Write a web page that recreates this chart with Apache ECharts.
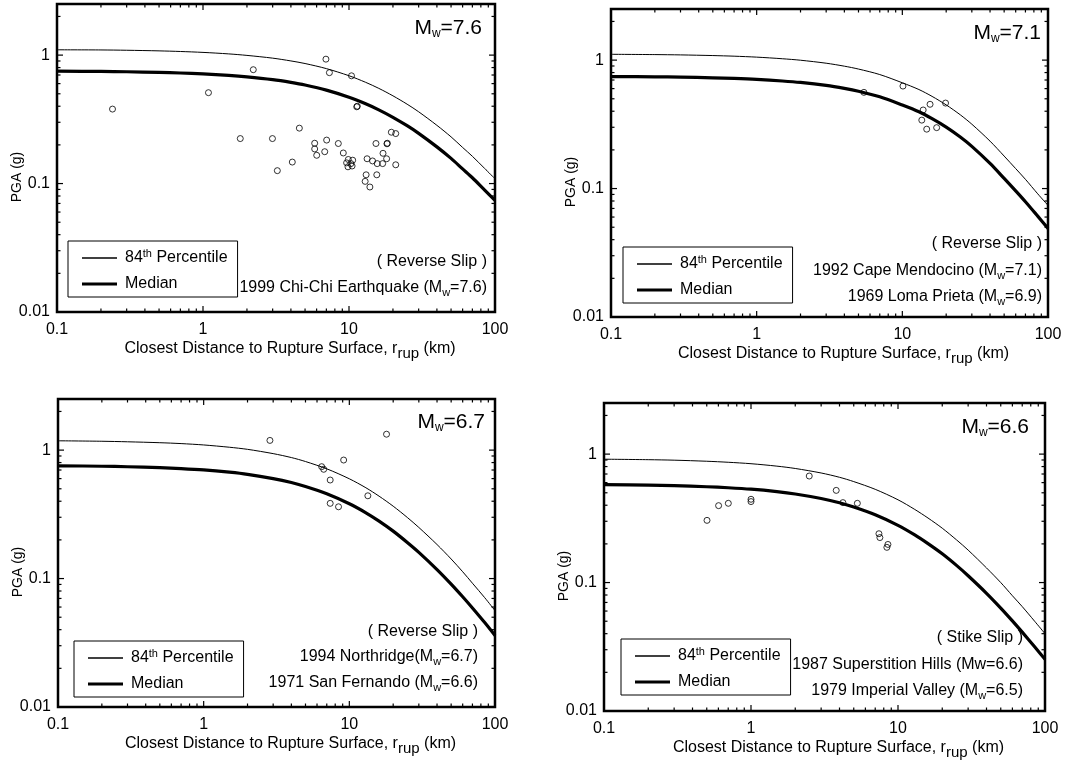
<!DOCTYPE html>
<html><head><meta charset="utf-8">
<script src="https://cdn.jsdelivr.net/npm/echarts@6/dist/echarts.min.js"></script>
<style>html,body{margin:0;padding:0;background:#fff}#c{width:1072px;height:761px}</style>
</head><body><div id="c"></div>
<script>
// ---------- data ----------
const distance = [0.1,0.2,0.3,0.5,0.7,1,1.5,2,3,4,5,7,10,13,16,20,25,30,40,50,60,70,85,100];

const p1Median = [0.75,0.746,0.742,0.734,0.726,0.714,0.695,0.677,0.644,0.613,0.585,0.534,0.470,0.418,0.375,0.328,0.282,0.246,0.193,0.157,0.130,0.111,0.089,0.074];
const p1P84    = [1.10,1.097,1.091,1.079,1.067,1.050,1.022,0.995,0.947,0.901,0.860,0.785,0.691,0.614,0.551,0.482,0.415,0.362,0.284,0.231,0.191,0.163,0.131,0.109];
const p2Median = [0.745,0.741,0.737,0.728,0.720,0.708,0.688,0.670,0.635,0.602,0.572,0.518,0.447,0.396,0.350,0.301,0.252,0.213,0.157,0.120,0.096,0.079,0.061,0.049];
const p2P84    = [1.110,1.104,1.098,1.085,1.073,1.055,1.025,0.998,0.946,0.897,0.852,0.772,0.666,0.590,0.522,0.448,0.375,0.317,0.234,0.179,0.143,0.118,0.091,0.074];
const p3Median = [0.755,0.749,0.742,0.730,0.718,0.701,0.673,0.648,0.600,0.559,0.521,0.457,0.382,0.325,0.280,0.234,0.191,0.160,0.1175,0.0905,0.0721,0.059,0.0454,0.036];
const p3P84    = [1.182,1.172,1.161,1.142,1.124,1.097,1.053,1.014,0.939,0.875,0.815,0.715,0.598,0.509,0.438,0.366,0.299,0.250,0.184,0.142,0.113,0.092,0.071,0.0563];
const p4Median = [0.578,0.573,0.5675,0.557,0.547,0.533,0.510,0.489,0.451,0.418,0.387,0.337,0.279,0.235,0.201,0.1675,0.136,0.113,0.0825,0.0633,0.0503,0.0411,0.0316,0.0253];
const p4P84    = [0.913,0.905,0.897,0.880,0.864,0.842,0.806,0.773,0.713,0.660,0.611,0.532,0.441,0.371,0.318,0.265,0.215,0.179,0.130,0.100,0.079,0.065,0.050,0.040];

const p1Points = [[0.24,0.38],[1.09,0.51],[2.21,0.77],[1.8,0.224],[2.99,0.224],[3.23,0.126],[4.09,0.147],[4.57,0.27],
  [5.82,0.206],[5.82,0.186],[6.01,0.166],[6.82,0.177],[7.03,0.218],[6.95,0.93],[7.34,0.73],[8.45,0.205],[9.14,0.173],
  [9.89,0.154],[10.6,0.152],[9.63,0.145],[10.3,0.143],[9.84,0.135],[10.5,0.137],[10.4,0.69],[11.3,0.396],[11.4,0.40],
  [13.1,0.117],[12.9,0.104],[13.9,0.094],[13.3,0.156],[14.5,0.150],[15.6,0.143],[17.0,0.143],[15.3,0.205],[15.5,0.117],
  [17.1,0.172],[18.1,0.156],[18.2,0.204],[18.3,0.206],[19.5,0.251],[20.9,0.245],[20.9,0.140]];
const p2Points = [[5.45,0.561],[10.1,0.628],[15.5,0.453],[13.9,0.409],[13.6,0.341],[14.7,0.290],[17.2,0.298],[19.8,0.463]];
const p3Points = [[2.85,1.19],[18.0,1.33],[9.14,0.837],[6.46,0.743],[6.67,0.709],[7.39,0.585],[13.4,0.441],[7.39,0.385],[8.43,0.362]];
const p4Points = [[0.502,0.305],[0.602,0.397],[0.701,0.414],[1.0,0.445],[1.0,0.427],[2.49,0.675],[3.80,0.522],[4.22,0.419],
  [5.29,0.414],[7.42,0.240],[7.53,0.224],[8.54,0.198],[8.40,0.188]];

const xTickLabels = ['0.1','1','10','100'];
const yTickLabels = ['0.01','0.1','1'];
const xTickValues = [0.1,0.2,0.3,0.4,0.5,0.6,0.7,0.8,0.9,1,2,3,4,5,6,7,8,9,10,20,30,40,50,60,70,80,90,100];
const yTickValues = [0.01,0.02,0.03,0.04,0.05,0.06,0.07,0.08,0.09,0.1,0.2,0.3,0.4,0.5,0.6,0.7,0.8,0.9,1,2];

const seriesNames = ['84th Percentile','Median'];
const magnitudes = ['7.6','7.1','6.7','6.6'];
const notes = [
  ['( Reverse Slip )','1999 Chi-Chi Earthquake (M{s|w}=7.6)'],
  ['( Reverse Slip )','1992 Cape Mendocino (M{s|w}=7.1)','1969 Loma Prieta (M{s|w}=6.9)'],
  ['( Reverse Slip )','1994 Northridge(M{s|w}=6.7)','1971 San Fernando (M{s|w}=6.6)'],
  ['( Stike Slip )','1987 Superstition Hills (Mw=6.6)','1979 Imperial Valley (M{s|w}=6.5)']
];
const yTitle = 'PGA (g)';
const xTitle = 'Closest Distance to Rupture Surface, r{s|rup} (km)';

// ---------- layout ----------
const X_MIN = 0.1, X_MAX = 100, Y_MIN = 0.01, Y_MAX = 2.5;
const FONT = "'Liberation Sans', Arial, Helvetica, sans-serif";
const layout = [
  {grid:{left:57, top:4, width:438, height:308}, legend:{left:68, top:241}, mw:{x:482, y:28}, notes:{x:487, y:[262,288]}},
  {grid:{left:611, top:9, width:437, height:308}, legend:{left:623, top:247}, mw:{x:1041, y:33}, notes:{x:1042, y:[244,271,297]}},
  {grid:{left:58, top:399, width:437, height:308}, legend:{left:74, top:641}, mw:{x:485, y:422}, notes:{x:478, y:[632,657,683]}},
  {grid:{left:604, top:403, width:441, height:308}, legend:{left:621, top:639}, mw:{x:1029, y:427}, notes:{x:1023, y:[638,665,691]}}
];
const panelData = [
  {median:p1Median, p84:p1P84, points:p1Points},
  {median:p2Median, p84:p2P84, points:p2Points},
  {median:p3Median, p84:p3P84, points:p3Points},
  {median:p4Median, p84:p4P84, points:p4Points}
];
const legendIcons = ['path://M0 0H35V1.4H0Z', 'path://M0 0H35V3.2H0Z'];

const zip = (xs, ys) => xs.map((x, i) => [x, ys[i]]);
const isMajor = v => Math.abs(Math.log10(v) - Math.round(Math.log10(v))) < 1e-6;
const fmt = (labels, offset) => v => isMajor(v) ? (labels[Math.round(Math.log10(v)) + offset] || '') : '';

const grids = [], xAxes = [], yAxes = [], series = [], legends = [], graphics = [];

layout.forEach((L, i) => {
  const D = panelData[i];
  grids.push(Object.assign({show:true, borderColor:'#000', borderWidth:2.5, backgroundColor:'transparent'}, L.grid));
  xAxes.push({type:'log', logBase:10, gridIndex:i, min:X_MIN, max:X_MAX,
    axisLine:{show:false}, axisTick:{show:false}, splitLine:{show:false},
    axisLabel:{color:'#000', fontSize:16, fontFamily:FONT, margin:10, formatter:fmt(xTickLabels, 1)}});
  yAxes.push({type:'log', logBase:10, gridIndex:i, min:Y_MIN, max:Y_MAX,
    axisLine:{show:false}, axisTick:{show:false}, splitLine:{show:false},
    axisLabel:{color:'#000', fontSize:16, fontFamily:FONT, margin:7, showMaxLabel:false, formatter:fmt(yTickLabels, 2)}});

  series.push({type:'line', name:seriesNames[0], xAxisIndex:i, yAxisIndex:i, data:zip(distance, D.p84),
    symbol:'none', showSymbol:false, smooth:0.3, lineStyle:{color:'#000', width:1}, itemStyle:{color:'#000'}, z:3});
  series.push({type:'line', name:seriesNames[1], xAxisIndex:i, yAxisIndex:i, data:zip(distance, D.median),
    symbol:'none', showSymbol:false, smooth:0.3, lineStyle:{color:'#000', width:3.2}, itemStyle:{color:'#000'}, z:3});
  series.push({type:'scatter', xAxisIndex:i, yAxisIndex:i, data:D.points, symbol:'circle', symbolSize:6,
    itemStyle:{color:'rgba(0,0,0,0)', borderColor:'#000', borderWidth:1}, z:4});
  // ticks on all four sides
  series.push({type:'custom', xAxisIndex:i, yAxisIndex:i, silent:true, clip:false, z:5,
    data:xTickValues.map(v => [v, Y_MIN]),
    renderItem:(p, api) => {
      const v = api.value(0), len = isMajor(v) ? 6 : 3.5;
      const b = api.coord([v, Y_MIN]), t = api.coord([v, Y_MAX]);
      return {type:'group', children:[
        {type:'line', shape:{x1:b[0], y1:b[1], x2:b[0], y2:b[1]-len}, style:{stroke:'#000', lineWidth:1.2}},
        {type:'line', shape:{x1:t[0], y1:t[1], x2:t[0], y2:t[1]+len}, style:{stroke:'#000', lineWidth:1.2}}]};
    }});
  series.push({type:'custom', xAxisIndex:i, yAxisIndex:i, silent:true, clip:false, z:5,
    data:yTickValues.map(v => [X_MIN, v]),
    renderItem:(p, api) => {
      const v = api.value(1), len = isMajor(v) ? 6 : 3.5;
      const l = api.coord([X_MIN, v]), r = api.coord([X_MAX, v]);
      return {type:'group', children:[
        {type:'line', shape:{x1:l[0], y1:l[1], x2:l[0]+len, y2:l[1]}, style:{stroke:'#000', lineWidth:1.2}},
        {type:'line', shape:{x1:r[0], y1:r[1], x2:r[0]-len, y2:r[1]}, style:{stroke:'#000', lineWidth:1.2}}]};
    }});

  legends.push({left:L.legend.left, top:L.legend.top, orient:'vertical', selectedMode:false,
    data:seriesNames.map((n, k) => ({name:n, icon:legendIcons[k]})),
    itemWidth:35, itemHeight:14, itemGap:8, symbolKeepAspect:true,
    padding:[7, 10, 5, 14], borderColor:'#000', borderWidth:1, borderRadius:0,
    textStyle:{color:'#000', fontSize:16, lineHeight:16, fontFamily:FONT, padding:[0,0,0,3],
      rich:{sup:{fontSize:11, lineHeight:11, fontFamily:FONT, color:'#000', padding:[0,0,9,0]}}},
    formatter:n => n === seriesNames[0] ? '84{sup|th} Percentile' : n});

  const g = L.grid;
  graphics.push({type:'text', x:g.left - 40, y:g.top + 173, rotation:Math.PI/2,
    style:{text:yTitle, fontSize:14, fontFamily:FONT, fill:'#000', align:'center', verticalAlign:'middle'}});
  graphics.push({type:'text', x:g.left + g.width/2 + 14, y:g.top + g.height + 37,
    style:{text:xTitle, fontSize:16, fontFamily:FONT, fill:'#000', align:'center', verticalAlign:'middle',
      rich:{s:{fontSize:15, fontFamily:FONT, fill:'#000', padding:[10,0,0,0]}}}});
  graphics.push({type:'text', x:L.mw.x, y:L.mw.y,
    style:{text:'M{s|w}=' + magnitudes[i], fontSize:21, fontFamily:FONT, fill:'#000', align:'right', verticalAlign:'middle',
      rich:{s:{fontSize:12, fontFamily:FONT, fill:'#000', padding:[12,0,0,0]}}}});
  notes[i].forEach((t, k) => {
    graphics.push({type:'text', x:L.notes.x, y:L.notes.y[k],
      style:{text:t, fontSize:16, fontFamily:FONT, fill:'#000', align:'right', verticalAlign:'middle',
        rich:{s:{fontSize:11, fontFamily:FONT, fill:'#000', padding:[9,0,0,0]}}}});
  });
});

const chart = echarts.init(document.getElementById('c'), null, {renderer:'canvas'});
chart.setOption({
  backgroundColor:'#fff', animation:false,
  textStyle:{fontFamily:FONT},
  grid:grids, xAxis:xAxes, yAxis:yAxes, legend:legends, series:series, graphic:graphics
});
</script></body></html>
